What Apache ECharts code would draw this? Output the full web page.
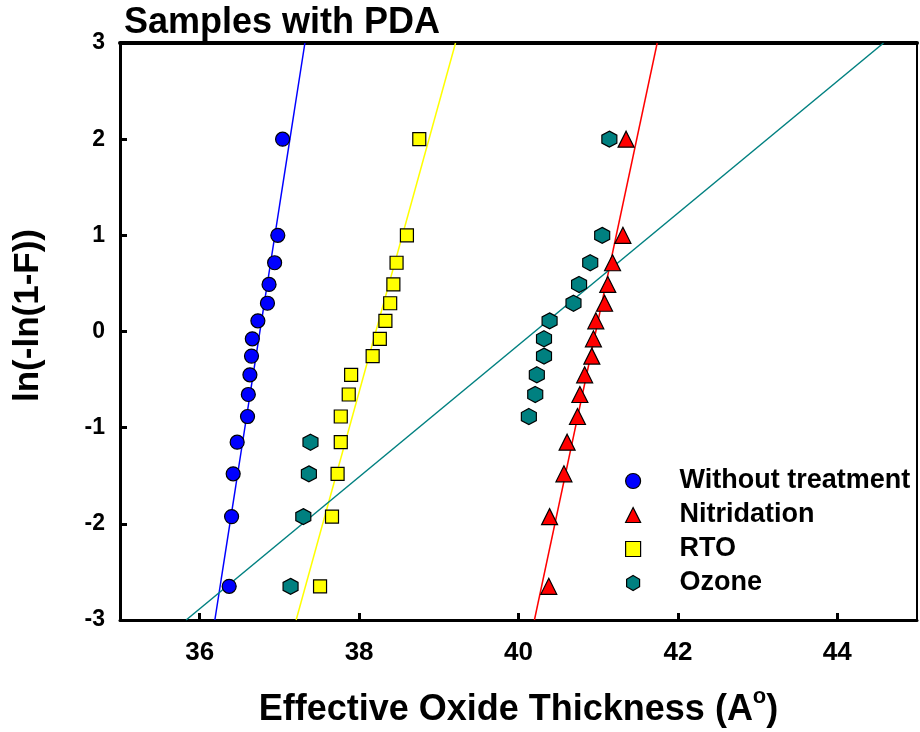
<!DOCTYPE html>
<html><head><meta charset="utf-8">
<script src="https://cdn.jsdelivr.net/npm/echarts@6/dist/echarts.min.js"></script>
<style>html,body{margin:0;padding:0;background:#fff}#c{width:920px;height:732px}</style>
</head><body><div id="c"></div>
<script>
// shared y (Weibull plotting positions) for all series
const yVals = [2.0, 1.0, 0.715, 0.489, 0.294, 0.111, -0.076, -0.256, -0.45, -0.655, -0.884, -1.151, -1.48, -1.925, -2.65];
const xWithout = [37.04, 36.98, 36.94, 36.87, 36.85, 36.73, 36.66, 36.65, 36.63, 36.61, 36.60, 36.47, 36.42, 36.40, 36.37];
const xNitridation = [41.35, 41.31, 41.18, 41.12, 41.08, 40.97, 40.94, 40.92, 40.83, 40.77, 40.74, 40.61, 40.57, 40.39, 40.38];
const xRTO = [38.755, 38.60, 38.47, 38.43, 38.39, 38.33, 38.26, 38.17, 37.90, 37.87, 37.77, 37.77, 37.73, 37.66, 37.51];
const xOzone = [41.14, 41.05, 40.90, 40.76, 40.69, 40.39, 40.32, 40.32, 40.23, 40.21, 40.13, 37.39, 37.37, 37.30, 37.14];
// fit lines: x at y = -3 and y = 3
const fitY = [-3, 3];
const fitWithout = [36.19, 37.32];
const fitNitridation = [40.20, 41.74];
const fitRTO = [37.21, 39.21];
const fitOzone = [35.83, 44.58];
const xTicks = [36, 38, 40, 42, 44];
const names = ['Without treatment', 'Nitridation', 'RTO', 'Ozone'];
const colors = ['#0000FF', '#FF0000', '#FFFF00', '#008080'];

const hex = 'path://M0,-1L0.866,-0.5L0.866,0.5L0,1L-0.866,0.5L-0.866,-0.5Z';
const symbols = ['circle', 'triangle', 'rect', hex];
const sizes = [14, 16, 13, [15, 16]];
const xsets = [xWithout, xNitridation, xRTO, xOzone];
const fits = [fitWithout, fitNitridation, fitRTO, fitOzone];

const zip = (xs, ys) => xs.map((x, i) => [x, ys[i]]);
const series = [];
fits.forEach((f, i) => series.push({
  type: 'line', data: zip(f, fitY), showSymbol: false, symbol: 'none', silent: true,
  lineStyle: { color: colors[i], width: 1.5 }, z: 1, clip: true
}));
xsets.forEach((xs, i) => series.push({
  type: 'scatter', name: names[i], data: zip(xs, yVals), symbol: symbols[i], symbolSize: sizes[i],
  itemStyle: { color: colors[i], borderColor: '#000', borderWidth: 1.2, opacity: 1 }, z: 3
}));

const FONT = 'Liberation Sans, Arial, sans-serif';
const chart = echarts.init(document.getElementById('c'), null, { renderer: 'canvas' });
chart.setOption({
  animation: false,
  backgroundColor: '#fff',
  title: { text: 'Samples with PDA', left: 119, top: 0,
    textStyle: { fontFamily: FONT, fontWeight: 'bold', fontSize: 36, color: '#000' } },
  grid: { left: 120, right: 3, top: 43, bottom: 112, outerBoundsMode: 'none', containLabel: false,
    show: true, borderColor: '#000', borderWidth: 2, backgroundColor: 'transparent' },
  legend: {
    orient: 'vertical', left: 620, top: 462, itemGap: 6, itemWidth: 15, itemHeight: 15,
    data: names.map((n, i) => ({ name: n, icon: symbols[i] })),
    itemStyle: { borderColor: '#000', borderWidth: 1.2 },
    textStyle: { fontFamily: FONT, fontWeight: 'bold', fontSize: 27, color: '#000', padding: [0, 0, 0, 34], lineHeight: 28 }
  },
  xAxis: [{
    type: 'value', min: 35, max: 45, position: 'bottom',
    name: '{n|Effective Oxide Thickness (A}{s|o}{n|)}', nameLocation: 'middle', nameGap: 70,
    nameTextStyle: { rich: {
      n: { fontFamily: FONT, fontWeight: 'bold', fontSize: 36, color: '#000', lineHeight: 40 },
      s: { fontFamily: FONT, fontWeight: 'bold', fontSize: 22, color: '#000', lineHeight: 20, padding: [0, 0, 22, 0], verticalAlign: 'bottom' }
    } },
    axisLine: { show: true, onZero: false, lineStyle: { color: '#000', width: 3 } },
    axisTick: { show: true, inside: true, length: 7, lineStyle: { color: '#000', width: 3 }, customValues: xTicks },
    axisLabel: { customValues: xTicks, margin: 20, fontFamily: FONT, fontWeight: 'bold', fontSize: 26, color: '#000' },
    splitLine: { show: false }
  }, {
    type: 'value', min: 35, max: 45, position: 'top',
    axisLine: { show: true, onZero: false, lineStyle: { color: '#000', width: 4 } },
    axisTick: { show: false }, axisLabel: { show: false }, splitLine: { show: false }
  }],
  yAxis: [{
    type: 'value', min: -3, max: 3, interval: 1,
    name: 'ln(-ln(1-F))', nameLocation: 'middle', nameGap: 74, nameRotate: 90,
    nameTextStyle: { fontFamily: FONT, fontWeight: 'bold', fontSize: 35, color: '#000', padding: [0, 0, 0, 32] },
    axisLine: { show: true, onZero: false, lineStyle: { color: '#000', width: 3 } },
    axisTick: { show: true, inside: true, length: 7, lineStyle: { color: '#000', width: 3 } },
    axisLabel: { margin: 15, fontFamily: FONT, fontWeight: 'bold', fontSize: 23, color: '#000' },
    splitLine: { show: false }
  }],
  series: series
});
</script></body></html>
